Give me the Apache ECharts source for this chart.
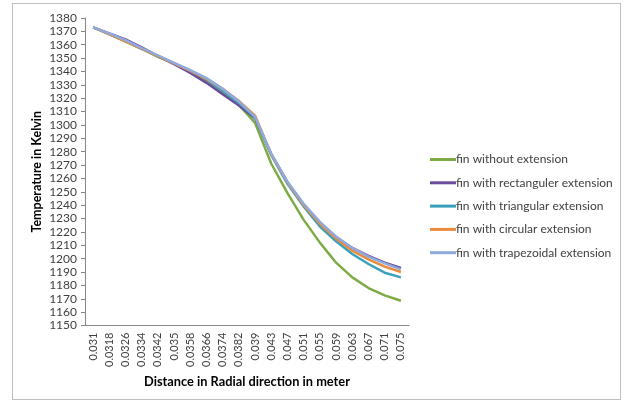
<!DOCTYPE html>
<html>
<head>
<meta charset="utf-8">
<script src="https://cdn.jsdelivr.net/npm/echarts@6/dist/echarts.min.js"></script>
<style>
html,body{margin:0;padding:0;background:#fff;}
#frame{position:absolute;left:12px;top:3px;width:609px;height:397px;border:1px solid #bfbfbf;box-sizing:border-box;}
#chart{position:absolute;left:0;top:0;width:629px;height:408px;}
</style>
</head>
<body>
<div id="frame"></div>
<div id="chart"></div>
<script>
const categories = ['0.031','0.0318','0.0326','0.0334','0.0342','0.035','0.0358','0.0366','0.0374','0.0382','0.039','0.043','0.047','0.051','0.055','0.059','0.063','0.067','0.071','0.075'];
const finWithout = [1373, 1368, 1362.5, 1357, 1351, 1346, 1340, 1333, 1324, 1315, 1301.5, 1271, 1249, 1229, 1212, 1197, 1186, 1178, 1172.5, 1168.5];
const finRect = [1373, 1368.5, 1364, 1358, 1351.5, 1345.5, 1339, 1331.5, 1323, 1314.5, 1305, 1278, 1257, 1240, 1227, 1216, 1208, 1202, 1197, 1193];
const finTri = [1373, 1368, 1362.5, 1357, 1351.5, 1346, 1340.5, 1334, 1325.5, 1316.5, 1305.5, 1277.5, 1256, 1239, 1224, 1213, 1203.5, 1196, 1189.5, 1186];
const finCirc = [1373, 1368, 1362.5, 1357, 1351.5, 1346, 1340.5, 1334.5, 1327, 1318, 1307, 1278, 1257, 1240, 1226, 1215, 1206, 1199.5, 1194, 1190];
const finTrap = [1373, 1368.5, 1363.5, 1357.5, 1352, 1346.5, 1341, 1335, 1327, 1317.5, 1306, 1278.5, 1257.5, 1241, 1227.5, 1216.5, 1208, 1201.5, 1196.5, 1192];
const seriesNames = ['fin without extension','fin with rectanguler extension','fin with triangular extension','fin with circular extension','fin with trapezoidal extension'];
const colors = ['#7eab45','#6b4c9a','#3aa0ba','#ec8a3c','#8faadc'];
const yMin = 1150, yMax = 1380, yStep = 10;

const chart = echarts.init(document.getElementById('chart'), null, {renderer:'canvas'});
const allData = [finWithout, finRect, finTri, finCirc, finTrap];
const font = 'Lato, "Noto Sans", sans-serif';
chart.setOption({
  animation:false,
  color: colors,
  grid:{left:85, right:220, top:18, bottom:82.5, containLabel:false},
  legend:{
    orient:'vertical', left:425, top:148,
    icon:'rect', itemWidth:26, itemHeight:3, itemGap:10.3,
    textStyle:{fontFamily:font, fontSize:12, color:'#404040', lineHeight:13, padding:[0,0,0,-5]},
    data: seriesNames
  },
  xAxis:{
    type:'category', data:categories, boundaryGap:true,
    axisLine:{lineStyle:{color:'#868686', width:1}},
    axisTick:{show:false},
    axisLabel:{rotate:90, fontFamily:font, fontSize:11, color:'#404040', margin:7, interval:0},
    name:'Distance in Radial direction in meter', nameLocation:'middle', nameGap:50,
    nameTextStyle:{fontFamily:font, fontSize:12.8, fontWeight:'bold', color:'#000'}
  },
  yAxis:{
    type:'value', min:yMin, max:yMax, interval:yStep,
    axisLine:{show:true, lineStyle:{color:'#868686', width:1}},
    axisTick:{show:true, length:4, lineStyle:{color:'#868686'}},
    splitLine:{show:false},
    axisLabel:{fontFamily:font, fontSize:12, color:'#404040', margin:8, formatter: v => String(v)},
    name:'Temperature in Kelvin', nameLocation:'middle', nameGap:42, nameRotate:90,
    nameMoveOverlap:false,
    nameTextStyle:{fontFamily:font, fontSize:12.5, fontWeight:'bold', color:'#000'}
  },
  series: seriesNames.map((n,i)=>({
    name:n, type:'line', data:allData[i], symbol:'none',
    lineStyle:{width:2.5, color:colors[i]}, itemStyle:{color:colors[i]}
  }))
});
</script>
</body>
</html>
